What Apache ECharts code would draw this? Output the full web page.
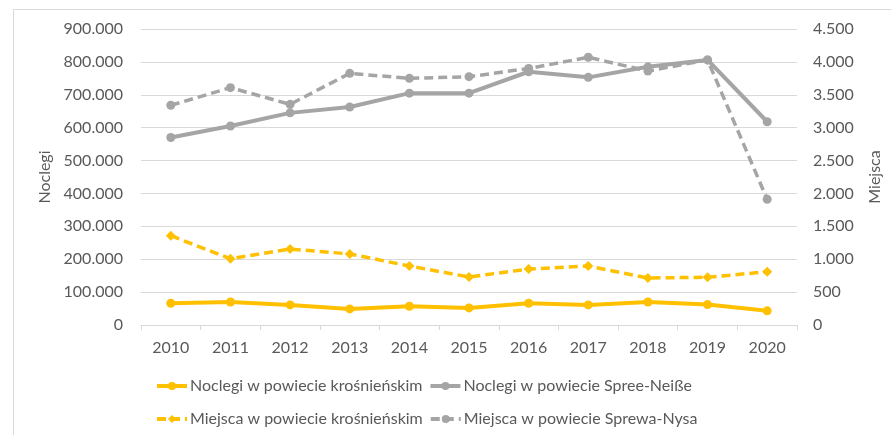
<!DOCTYPE html>
<html>
<head>
<meta charset="utf-8">
<script src="https://cdn.jsdelivr.net/npm/echarts@6/dist/echarts.min.js"></script>
<style>
  html, body { margin: 0; padding: 0; background: #fff; }
  #chart { width: 891px; height: 435px; }
</style>
</head>
<body>
<div id="chart"></div>
<script>
// lata
const years = ['2010', '2011', '2012', '2013', '2014', '2015', '2016', '2017', '2018', '2019', '2020'];
// noclegi (lewa oś)
const noclegiKrosno = [66000, 70000, 61000, 49000, 57000, 52000, 66000, 61000, 70000, 62000, 43000];
const noclegiSpree = [570000, 605000, 645000, 663000, 705000, 705000, 770000, 753000, 785000, 806000, 618000];
// miejsca (prawa oś)
const miejscaKrosno = [1357, 1008, 1155, 1080, 897, 730, 851, 897, 715, 725, 810];
const miejscaSprewa = [3340, 3608, 3355, 3826, 3750, 3775, 3900, 4070, 3861, 4030, 1911];

const yellow = '#FFC000';
const gray = '#A5A5A5';
const textColor = '#595959';
const font = 'Lato';

// separator tysięcy kropką
function fmt(v) {
  return String(v).replace(/\B(?=(\d{3})+(?!\d))/g, '.');
}

function lineSeries(name, data, color, dashed, symbol, axis) {
  return {
    name: name,
    type: 'line',
    yAxisIndex: axis,
    data: data,
    symbol: symbol,
    symbolSize: symbol === 'diamond' ? 10 : 9,
    color: color,
    lineStyle: { color: color, width: dashed ? 3.5 : 4, type: dashed ? [9, 5] : 'solid' },
    itemStyle: { color: color },
    emphasis: { disabled: true }
  };
}

let chart = echarts.init(document.getElementById('chart'));
let legendText = { color: textColor, fontFamily: font, fontSize: 16, padding: [0, 0, 0, -2] };
let option = {
  animation: false,
  textStyle: { fontFamily: font },
  graphic: [{
    type: 'rect',
    shape: { x: 13.5, y: 9.5, width: 900, height: 440 },
    style: { fill: 'none', stroke: '#D9D9D9', lineWidth: 1 }
  }],
  legend: [{
    data: ['Noclegi w powiecie krośnieńskim', 'Noclegi w powiecie Spree-Neiße'],
    left: 155, top: 378, padding: 0,
    itemWidth: 30, itemHeight: 10, itemGap: 6,
    lineStyle: { width: 4 },
    textStyle: legendText
  }, {
    data: ['Miejsca w powiecie krośnieńskim', 'Miejsca w powiecie Sprewa-Nysa'],
    left: 155, top: 411, padding: 0,
    itemWidth: 30, itemHeight: 10, itemGap: 6,
    lineStyle: { width: 4 },
    textStyle: legendText
  }],
  grid: { left: 141, right: 94, top: 29, bottom: 110 },
  xAxis: {
    type: 'category',
    data: years,
    boundaryGap: true,
    axisLine: { lineStyle: { color: '#D9D9D9', width: 1 } },
    axisTick: { show: true, length: 5, lineStyle: { color: '#D9D9D9' } },
    axisLabel: { color: textColor, fontSize: 16, margin: 15, fontFamily: font }
  },
  yAxis: [{
    type: 'value',
    min: 0, max: 900000, interval: 100000,
    name: 'Noclegi',
    nameLocation: 'middle',
    nameGap: 88,
    nameTextStyle: { color: textColor, fontSize: 16, fontFamily: font },
    axisLine: { show: false },
    axisTick: { show: false },
    splitLine: { lineStyle: { color: '#D9D9D9', width: 1 } },
    axisLabel: { color: textColor, fontSize: 16, margin: 18, fontFamily: font, formatter: fmt }
  }, {
    type: 'value',
    min: 0, max: 4500, interval: 500,
    name: 'Miejsca',
    nameLocation: 'middle',
    nameGap: 70,
    nameTextStyle: { color: textColor, fontSize: 16, fontFamily: font },
    axisLine: { show: false },
    axisTick: { show: false },
    splitLine: { show: false },
    axisLabel: { color: textColor, fontSize: 16, margin: 16, fontFamily: font, formatter: fmt }
  }],
  series: [
    lineSeries('Noclegi w powiecie krośnieńskim', noclegiKrosno, yellow, false, 'circle', 0),
    lineSeries('Noclegi w powiecie Spree-Neiße', noclegiSpree, gray, false, 'circle', 0),
    lineSeries('Miejsca w powiecie krośnieńskim', miejscaKrosno, yellow, true, 'diamond', 1),
    lineSeries('Miejsca w powiecie Sprewa-Nysa', miejscaSprewa, gray, true, 'circle', 1)
  ]
};
chart.setOption(option);
</script>
</body>
</html>
